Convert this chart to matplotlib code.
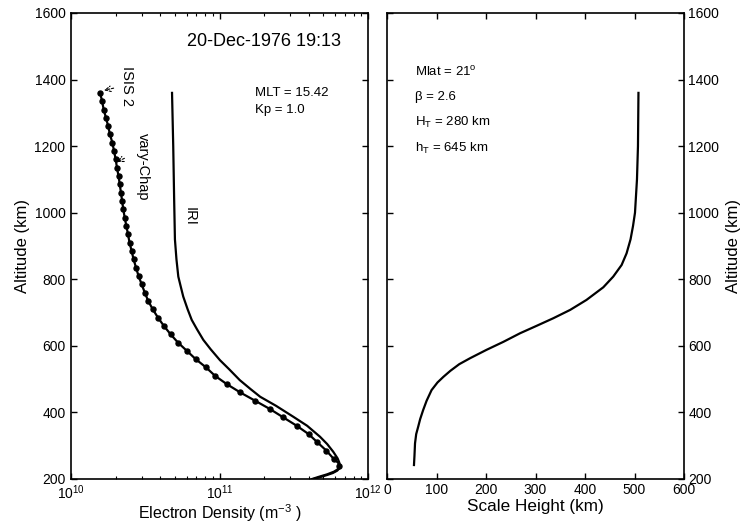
import matplotlib
matplotlib.use("Agg")
import matplotlib.pyplot as plt
from matplotlib.ticker import LogLocator, NullFormatter

plt.rcParams['font.family'] = ['Liberation Sans', 'DejaVu Sans']
plt.rcParams['mathtext.fontset'] = 'custom'
plt.rcParams['mathtext.rm'] = 'Liberation Sans'
plt.rcParams['mathtext.it'] = 'Liberation Sans:italic'
plt.rcParams['mathtext.bf'] = 'Liberation Sans:bold'

# ---------------- data ----------------
isis2_alt = [1360, 1335, 1310, 1285, 1260, 1235, 1210, 1185, 1160, 1135, 1110, 1085,
             1060, 1035, 1010, 985, 960, 935, 910, 885, 860, 835, 810, 785, 760, 735,
             710, 685, 660, 635, 610, 585, 560, 535, 510, 485, 460, 435, 410, 385,
             360, 335, 310, 285, 260, 238]
isis2_ne = [1.57e10, 1.62e10, 1.66e10, 1.72e10, 1.78e10, 1.83e10, 1.90e10, 1.95e10,
            2.00e10, 2.04e10, 2.09e10, 2.13e10, 2.17e10, 2.21e10, 2.25e10, 2.30e10,
            2.36e10, 2.42e10, 2.48e10, 2.56e10, 2.64e10, 2.74e10, 2.85e10, 2.99e10,
            3.14e10, 3.31e10, 3.55e10, 3.85e10, 4.22e10, 4.68e10, 5.25e10, 6.03e10,
            6.92e10, 8.13e10, 9.33e10, 1.12e11, 1.38e11, 1.74e11, 2.19e11, 2.69e11,
            3.31e11, 3.98e11, 4.57e11, 5.25e11, 5.89e11, 6.40e11]

chap_alt = [1360, 1335, 1310, 1285, 1260, 1235, 1210, 1185, 1160, 1135, 1110, 1085,
            1060, 1035, 1010, 985, 960, 935, 910, 885, 860, 835, 810, 785, 760, 735,
            710, 685, 660, 635, 610, 585, 560, 535, 510, 485, 460, 435, 410, 385,
            360, 335, 310, 285, 260, 250, 242, 233, 225, 218, 212, 206, 200]
chap_ne = [1.57e10, 1.62e10, 1.66e10, 1.72e10, 1.78e10, 1.83e10, 1.90e10, 1.95e10,
           2.00e10, 2.04e10, 2.09e10, 2.13e10, 2.17e10, 2.21e10, 2.25e10, 2.30e10,
           2.36e10, 2.42e10, 2.48e10, 2.56e10, 2.64e10, 2.74e10, 2.85e10, 2.99e10,
           3.14e10, 3.31e10, 3.55e10, 3.85e10, 4.22e10, 4.68e10, 5.25e10, 6.03e10,
           6.92e10, 8.13e10, 9.33e10, 1.12e11, 1.38e11, 1.74e11, 2.19e11, 2.69e11,
           3.31e11, 3.98e11, 4.57e11, 5.25e11, 5.89e11, 6.25e11, 6.45e11, 6.45e11,
           6.20e11, 5.80e11, 5.30e11, 4.80e11, 4.30e11]

iri_alt = [1360, 1200, 1040, 920, 860, 808, 780, 748, 710, 678, 650, 618, 590, 557,
           530, 497, 470, 447, 420, 387, 360, 327, 305, 282, 262, 250, 242, 232,
           222, 214, 207, 200]
iri_ne = [4.79e10, 4.88e10, 4.95e10, 5.01e10, 5.13e10, 5.28e10, 5.47e10, 5.70e10,
          6.10e10, 6.50e10, 7.05e10, 7.78e10, 8.71e10, 1.007e11, 1.16e11, 1.37e11,
          1.62e11, 1.88e11, 2.40e11, 3.14e11, 3.89e11, 4.75e11, 5.31e11, 5.83e11,
          6.24e11, 6.40e11, 6.47e11, 6.40e11, 5.90e11, 5.30e11, 4.70e11, 4.20e11]

sh_alt = [242, 270, 307, 335, 357, 380, 407, 435, 467, 490, 507, 525, 545, 563, 588,
          612, 638, 660, 683, 708, 738, 776, 808, 843, 878, 920, 960, 1000, 1100,
          1200, 1360]
sh_km = [54.5, 55.5, 56.6, 59, 63, 67, 73, 80, 90, 102, 114, 128, 146, 168, 201,
         235, 269, 302, 336, 370, 403, 437, 457, 474, 484, 492, 497, 501, 505,
         507, 508]

alt_ticks = [200, 400, 600, 800, 1000, 1200, 1400, 1600]
sh_ticks = [0, 100, 200, 300, 400, 500, 600]

# ---------------- figure ----------------
fig = plt.figure(figsize=(7.47, 5.25), dpi=100)
axL = fig.add_axes([71/747, 1-479/525, 297/747, 466/525])
axR = fig.add_axes([387/747, 1-479/525, 297/747, 466/525])

lw = 1.6
axL.plot(chap_ne, chap_alt, color='black', lw=lw, solid_joinstyle='round')
axL.plot(iri_ne, iri_alt, color='black', lw=lw, solid_joinstyle='round')
axL.plot(isis2_ne, isis2_alt, linestyle='none', marker='o', ms=3.6,
         color='black')
axL.set_xscale('log')
axL.set_xlim(1e10, 1e12)
axL.set_ylim(200, 1600)
axL.set_yticks(alt_ticks)
axL.xaxis.set_major_locator(LogLocator(base=10, numticks=5))
axL.xaxis.set_minor_locator(LogLocator(base=10, subs=range(2, 10), numticks=20))
axL.xaxis.set_minor_formatter(NullFormatter())
axL.set_xlabel('Electron Density (m$^{-3}$ )', fontsize=11.5, labelpad=0)
axL.set_ylabel('Altitude (km)', fontsize=12, labelpad=3)

axL.text(0.65, 0.938, '20-Dec-1976 19:13', transform=axL.transAxes,
         ha='center', va='center', fontsize=13)
axL.text(0.62, 0.828, 'MLT = 15.42', transform=axL.transAxes,
         ha='left', va='center', fontsize=9.5)
axL.text(0.62, 0.792, 'Kp = 1.0', transform=axL.transAxes,
         ha='left', va='center', fontsize=9.5)

# annotations
axL.text(2.38e10, 1381, 'ISIS 2', rotation=-90, ha='center', va='center',
         fontsize=10.5)
axL.annotate('', xy=(1.60e10, 1366), xytext=(2.02e10, 1376),
             arrowprops=dict(arrowstyle='->', color='black', lw=0.8,
                             linestyle=(0, (2, 1.5))))
axL.text(3.05e10, 1137, 'vary-Chap', rotation=-90, ha='center', va='center',
         fontsize=10.5)
axL.annotate('', xy=(1.96e10, 1149), xytext=(2.38e10, 1167),
             arrowprops=dict(arrowstyle='->', color='black', lw=0.8,
                             linestyle=(0, (2, 1.5))))
axL.text(6.3e10, 990, 'IRI', rotation=-90, ha='center', va='center',
         fontsize=10.5)

axR.plot(sh_km, sh_alt, color='black', lw=lw, solid_joinstyle='round')
axR.set_xlim(0, 600)
axR.set_ylim(200, 1600)
axR.set_xticks(sh_ticks)
axR.set_yticks(alt_ticks)
axR.set_xlabel('Scale Height (km)', fontsize=12.3, labelpad=1)
axR.set_ylabel('Altitude (km)', fontsize=12, labelpad=5)
axR.yaxis.set_label_position('right')

axR.text(0.094, 0.873, 'Mlat = 21$^{\\rm o}$', transform=axR.transAxes,
         ha='left', va='center', fontsize=9.5)
axR.text(0.094, 0.820, 'β = 2.6', transform=axR.transAxes,
         ha='left', va='center', fontsize=9.5)
axR.text(0.094, 0.766, 'H$_{\\rm T}$ = 280 km', transform=axR.transAxes,
         ha='left', va='center', fontsize=9.5)
axR.text(0.094, 0.710, 'h$_{\\rm T}$ = 645 km', transform=axR.transAxes,
         ha='left', va='center', fontsize=9.5)

for ax in (axL, axR):
    for s in ax.spines.values():
        s.set_linewidth(1.2)
    ax.tick_params(which='major', direction='in', length=4, width=1.0,
                   top=True, right=True, labelsize=10, pad=3)
    ax.tick_params(which='minor', direction='in', length=2.5, width=0.8,
                   top=True, right=True)

axL.tick_params(axis='x', which='major', pad=3.5)
axL.tick_params(axis='y', which='major', pad=4)
axR.tick_params(axis='y', which='both', labelleft=False, labelright=True)

fig.savefig('out.png', dpi=100)
